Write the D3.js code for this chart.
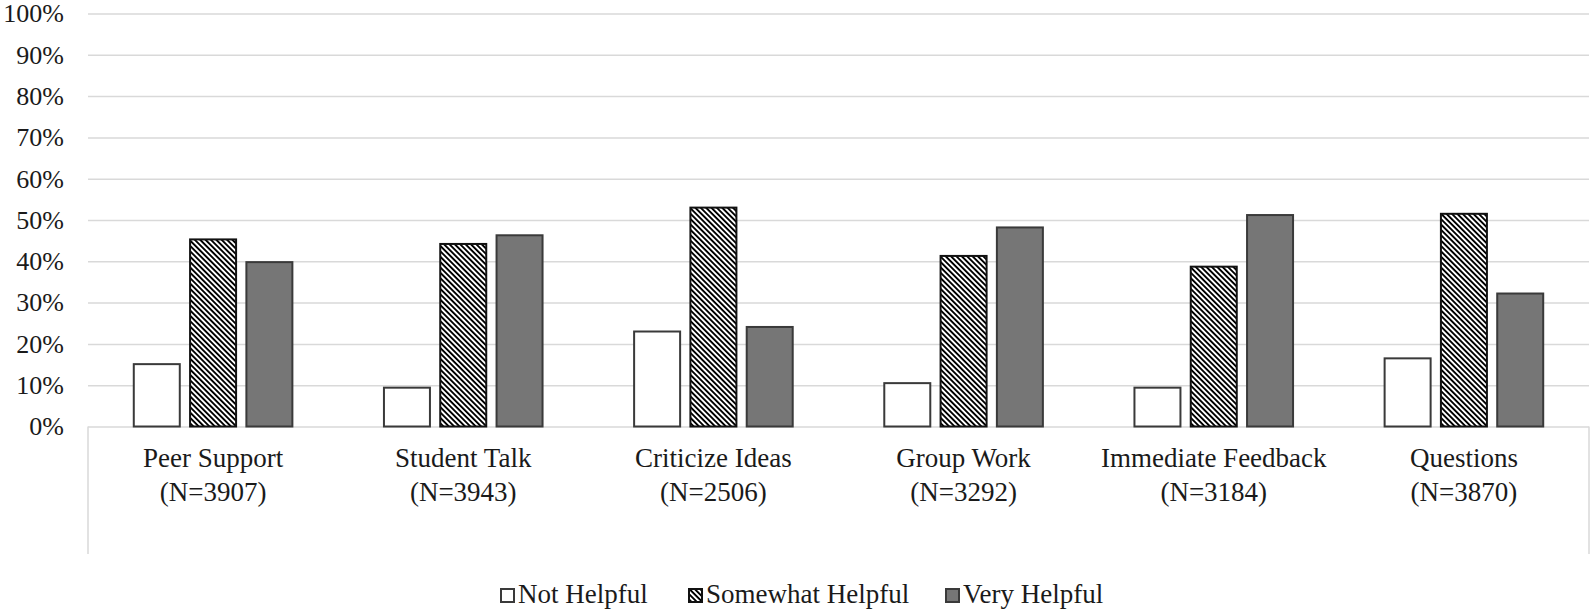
<!DOCTYPE html>
<html>
<head>
<meta charset="utf-8">
<script src="https://cdn.jsdelivr.net/npm/d3@7"></script>
<style>
  html, body { margin: 0; padding: 0; background: #ffffff; }
  svg { display: block; }
  svg text { font-family: "Liberation Serif", "Times New Roman", "DejaVu Serif", serif !important; }
</style>
</head>
<body>
<svg id="chart" width="1594" height="614"></svg>
<script>
const categories = ["Peer Support", "Student Talk", "Criticize Ideas", "Group Work", "Immediate Feedback", "Questions"];
const sampleSizes = [3907, 3943, 2506, 3292, 3184, 3870];
const seriesNames = ["Not Helpful", "Somewhat Helpful", "Very Helpful"];
const notHelpful = [15.1, 9.4, 23.0, 10.5, 9.4, 16.5];
const somewhatHelpful = [45.3, 44.2, 53.0, 41.3, 38.7, 51.5];
const veryHelpful = [39.8, 46.3, 24.1, 48.2, 51.2, 32.2];
const yTicks = [0, 10, 20, 30, 40, 50, 60, 70, 80, 90, 100];

const seriesValues = [notHelpful, somewhatHelpful, veryHelpful];

const svg = d3.select("#chart");
const plotLeft = 88, plotRight = 1589, plotTop = 13.5, plotBottom = 426.5, boxBottom = 554;

// hatch pattern
const defs = svg.append("defs");
const pat = defs.append("pattern")
  .attr("id", "hatch")
  .attr("patternUnits", "userSpaceOnUse")
  .attr("width", 3.8).attr("height", 3.8)
  .attr("patternTransform", "rotate(-45)");
pat.append("rect").attr("width", 3.8).attr("height", 3.8).attr("fill", "#ffffff");
pat.append("rect").attr("width", 1.9).attr("height", 3.8).attr("fill", "#000000");

const fills = ["#ffffff", "url(#hatch)", "#767676"];
const strokes = ["#3a3a3a", "#111111", "#3a3a3a"];

const x = d3.scaleBand().domain(categories).range([plotLeft, plotRight]).paddingInner(0).paddingOuter(0);
const bw = x.bandwidth();
const groupW = 158.6;
const x1 = d3.scaleBand().domain(seriesNames)
  .range([bw / 2 - groupW / 2, bw / 2 + groupW / 2])
  .paddingInner(0.183).paddingOuter(0);
const y = d3.scaleLinear().domain([0, 100]).range([plotBottom, plotTop]);

// gridlines + y axis
const yAxis = d3.axisLeft(y)
  .tickValues(yTicks)
  .tickFormat(d => d + "%")
  .tickSize(-(plotRight - plotLeft))
  .tickPadding(24);
const gy = svg.append("g").attr("transform", `translate(${plotLeft},0)`).call(yAxis);
gy.attr("font-family", null);
gy.select(".domain").remove();
gy.selectAll(".tick line").attr("stroke", "#d9d9d9").attr("stroke-width", 1.5);
gy.selectAll(".tick text")
  .attr("font-size", 26).attr("fill", "#1a1a1a");

// category axis box (vertical edges)
svg.append("line").attr("x1", plotLeft).attr("x2", plotLeft)
  .attr("y1", plotBottom).attr("y2", boxBottom).attr("stroke", "#d9d9d9").attr("stroke-width", 1.5);
svg.append("line").attr("x1", plotRight).attr("x2", plotRight)
  .attr("y1", plotBottom).attr("y2", boxBottom).attr("stroke", "#d9d9d9").attr("stroke-width", 1.5);

// bars
const groups = svg.append("g").selectAll("g")
  .data(categories).join("g")
  .attr("transform", d => `translate(${x(d)},0)`);

groups.each(function(cat, ci) {
  const g = d3.select(this);
  seriesNames.forEach((s, si) => {
    const v = seriesValues[si][ci];
    g.append("rect")
      .attr("x", x1(s))
      .attr("y", y(v))
      .attr("width", x1.bandwidth())
      .attr("height", y(0) - y(v))
      .attr("fill", fills[si])
      .attr("stroke", strokes[si])
      .attr("stroke-width", 2);
  });
});

// category labels
const labels = svg.append("g").selectAll("text")
  .data(categories).join("text")
  .attr("x", d => x(d) + bw / 2)
  .attr("y", 467)
  .attr("text-anchor", "middle")
  .attr("font-size", 27).attr("fill", "#1a1a1a");
labels.append("tspan").attr("x", d => x(d) + bw / 2).attr("dy", 0).text(d => d);
labels.append("tspan").attr("x", d => x(d) + bw / 2).attr("dy", 34)
  .text((d, i) => `(N=${sampleSizes[i]})`);

// legend
const legendX = [500, 688, 945];
const legend = svg.append("g").selectAll("g")
  .data(seriesNames).join("g")
  .attr("transform", (d, i) => `translate(${legendX[i]},589)`);
legend.append("rect")
  .attr("x", 1).attr("y", 0).attr("width", 13).attr("height", 13)
  .attr("fill", (d, i) => fills[i])
  .attr("stroke", (d, i) => strokes[i]).attr("stroke-width", 2);
legend.append("text")
  .attr("x", 18).attr("y", 14)
  .attr("font-size", 27).attr("fill", "#1a1a1a")
  .text(d => d);
</script>
</body>
</html>
